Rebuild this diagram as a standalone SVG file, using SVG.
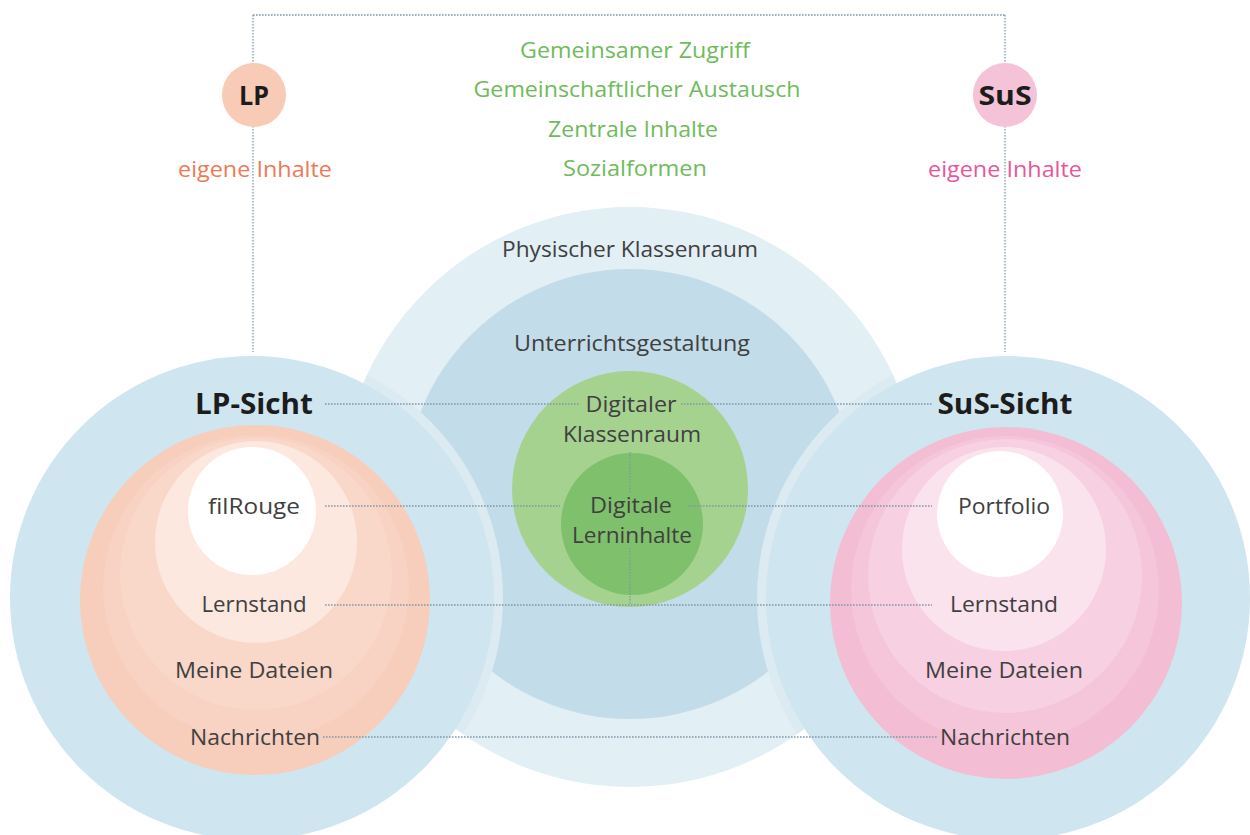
<svg xmlns="http://www.w3.org/2000/svg" width="1250" height="835" viewBox="0 0 1250 835">
<style>
text{font-family:"Open Sans","Noto Sans","Liberation Sans",sans-serif;text-anchor:middle}
.lbl{font-size:22px;fill:#404040}
.bold{font-size:29px;font-weight:700;fill:#1c1c1c}
.grn{font-size:22px;fill:#6fbb5b}
.dot{fill:none;stroke:#8298a8;stroke-width:1.3;stroke-dasharray:1.6 1.4}
</style>
<defs>
<clipPath id="physClip"><circle cx="630" cy="497" r="290"/></clipPath>
</defs>
<rect width="1250" height="835" fill="#ffffff"/>

<g id="connectors-top">
<path class="dot" d="M253 15 H1005 M253 15 V352 M1005 15 V352"/>
</g>

<g id="lp">
<circle cx="254" cy="95" r="32" fill="#f7cbb6"/>
<text x="254" y="105" style="font-size:27px;font-weight:700;fill:#1c1c1c" textLength="30" lengthAdjust="spacingAndGlyphs">LP</text>
<text x="255" y="177" style="font-size:22px;fill:#ee7a55" textLength="154" lengthAdjust="spacingAndGlyphs">eigene Inhalte</text>
</g>

<g id="sus">
<circle cx="1005" cy="95" r="32" fill="#f5c3d7"/>
<text x="1005" y="105" style="font-size:27px;font-weight:700;fill:#1c1c1c" textLength="53" lengthAdjust="spacingAndGlyphs">SuS</text>
<text x="1005" y="177" style="font-size:22px;fill:#e9569b" textLength="154" lengthAdjust="spacingAndGlyphs">eigene Inhalte</text>
</g>

<g id="gemeinsam">
<text class="grn" x="635" y="58" textLength="230" lengthAdjust="spacingAndGlyphs">Gemeinsamer Zugriff</text>
<text class="grn" x="637" y="97" textLength="327" lengthAdjust="spacingAndGlyphs">Gemeinschaftlicher Austausch</text>
<text class="grn" x="633" y="137" textLength="170" lengthAdjust="spacingAndGlyphs">Zentrale Inhalte</text>
<text class="grn" x="635" y="176" textLength="144" lengthAdjust="spacingAndGlyphs">Sozialformen</text>
</g>

<g id="physischer-klassenraum">
<circle cx="630" cy="497" r="290" fill="#e2eff5"/>
</g>
<g id="unterrichtsgestaltung">
<circle cx="630" cy="494" r="225" fill="#c2dce9"/>
</g>
<g id="halos" clip-path="url(#physClip)">
<circle cx="252" cy="598" r="251" fill="#dcebf2"/>
<circle cx="1008" cy="598" r="251" fill="#dcebf2"/>
</g>

<g id="lp-sicht">
<circle cx="252" cy="598" r="242" fill="#cfe5ef"/>
<circle cx="255" cy="600" r="175" fill="#f7cdbb"/>
<circle cx="256" cy="588" r="153" fill="#f8d2c2"/>
<circle cx="256" cy="574" r="136" fill="#f9d8ca"/>
<circle cx="256" cy="542" r="101" fill="#fce8df"/>
<circle cx="252" cy="511" r="64" fill="#ffffff"/>
</g>

<g id="sus-sicht">
<circle cx="1008" cy="598" r="242" fill="#cfe5ef"/>
<circle cx="1006" cy="603" r="176" fill="#f3bdd3"/>
<circle cx="1005" cy="590" r="154" fill="#f5c6d9"/>
<circle cx="1005" cy="576" r="137" fill="#f7d0e1"/>
<circle cx="1004" cy="549" r="102" fill="#fbe3ee"/>
<circle cx="1000" cy="514" r="63" fill="#ffffff"/>
</g>

<g id="digitaler-klassenraum">
<circle cx="630" cy="489" r="118" fill="#a5d28f"/>
</g>
<g id="digitale-lerninhalte">
<circle cx="632" cy="524" r="71" fill="#7ec06b"/>
</g>

<g id="connectors">
<path class="dot" d="M325 404 H580 M681 404 H932"/>
<path class="dot" d="M325 506 H560 M688 506 H932"/>
<path class="dot" d="M325 605 H932"/>
<path class="dot" d="M323 737 H937"/>
<path class="dot" d="M630 452 V493 M630 548 V605"/>
</g>

<g id="labels-center">
<text class="lbl" x="630" y="257" textLength="256" lengthAdjust="spacingAndGlyphs">Physischer Klassenraum</text>
<text class="lbl" x="632" y="351" textLength="236" lengthAdjust="spacingAndGlyphs">Unterrichtsgestaltung</text>
<text class="lbl" x="631" y="412" textLength="91" lengthAdjust="spacingAndGlyphs">Digitaler</text>
<text class="lbl" x="632" y="442" textLength="138" lengthAdjust="spacingAndGlyphs">Klassenraum</text>
<text class="lbl" x="631" y="513" textLength="82" lengthAdjust="spacingAndGlyphs">Digitale</text>
<text class="lbl" x="632" y="543" textLength="120" lengthAdjust="spacingAndGlyphs">Lerninhalte</text>
</g>

<g id="labels-lp">
<text class="bold" x="254" y="414" textLength="118" lengthAdjust="spacingAndGlyphs">LP-Sicht</text>
<text class="lbl" x="254" y="514" textLength="92" lengthAdjust="spacingAndGlyphs">filRouge</text>
<text class="lbl" x="254" y="612" textLength="105" lengthAdjust="spacingAndGlyphs">Lernstand</text>
<text class="lbl" x="254" y="678" textLength="158" lengthAdjust="spacingAndGlyphs">Meine Dateien</text>
<text class="lbl" x="255" y="745" textLength="130" lengthAdjust="spacingAndGlyphs">Nachrichten</text>
</g>

<g id="labels-sus">
<text class="bold" x="1005" y="414" textLength="135" lengthAdjust="spacingAndGlyphs">SuS-Sicht</text>
<text class="lbl" x="1004" y="514" textLength="92" lengthAdjust="spacingAndGlyphs">Portfolio</text>
<text class="lbl" x="1004" y="612" textLength="108" lengthAdjust="spacingAndGlyphs">Lernstand</text>
<text class="lbl" x="1004" y="678" textLength="158" lengthAdjust="spacingAndGlyphs">Meine Dateien</text>
<text class="lbl" x="1005" y="745" textLength="130" lengthAdjust="spacingAndGlyphs">Nachrichten</text>
</g>
</svg>
